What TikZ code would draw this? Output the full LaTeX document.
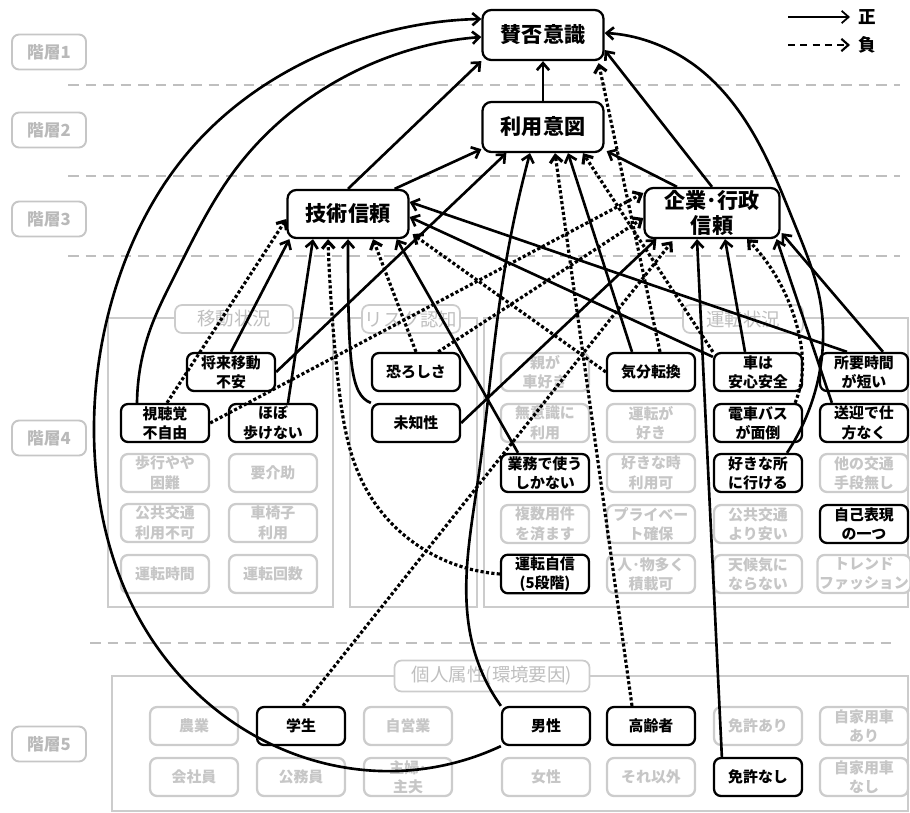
\documentclass[tikz,border=0pt]{standalone}
\usepackage{fontspec}
\setmainfont{Noto Sans CJK JP}
\usetikzlibrary{arrows.meta,calc,hobby}
\tikzset{
    every node/.style={inner sep=1pt, align=center},
    layerbox/.style={draw=gray!45, rounded corners=4pt, line width=1.1pt, text=gray!55,
        font=\fontsize{9.5}{11}\selectfont\bfseries, minimum width=1.48cm, minimum height=0.7cm},
    keybox/.style={draw, fill=white, rounded corners=5pt, line width=1.3pt,
        font=\fontsize{12}{15}\selectfont\bfseries, minimum width=2.42cm, minimum height=1cm},
    varbox/.style={draw, fill=white, rounded corners=4pt, line width=1.3pt,
        font=\fontsize{8.5}{11}\selectfont\bfseries, minimum width=1.76cm, minimum height=0.76cm},
    offbox/.style={varbox, draw=gray!40, text=gray!45},
    groupbox/.style={draw=gray!40, line width=1pt},
    grouptitle/.style={draw=gray!40, fill=white, rounded corners=4pt, line width=1pt, text=gray!50,
        font=\fontsize{10.5}{12}\selectfont, minimum height=0.56cm},
    divider/.style={gray!50, line width=1pt, dash pattern=on 6pt off 4pt},
    posline/.style={line width=1.5pt, -{Straight Barb[length=4pt,width=7pt]}},
    negline/.style={posline, line width=1.8pt, dash pattern=on 1.8pt off 1.3pt},
}
\begin{document}
\begin{tikzpicture}[x=0.02cm, y=-0.02cm]
\useasboundingbox (0,0) rectangle (910,812);

% layers
\node[layerbox] (L1) at (49,52) {階層1};
\node[layerbox] (L2) at (49,130) {階層2};
\node[layerbox] (L3) at (49,219) {階層3};
\node[layerbox] (L4) at (49,438) {階層4};
\node[layerbox] (L5) at (49,744) {階層5};
\draw[divider] (68,85) -- (900,85);
\draw[divider] (68,176) -- (900,176);
\draw[divider] (68,256) -- (900,256);
\draw[divider] (90,643) -- (895,643);

% legend
\node[font=\fontsize{10}{12}\selectfont\bfseries, anchor=west] (lgPos) at (856,17) {正};
\node[font=\fontsize{10}{12}\selectfont\bfseries, anchor=west] (lgNeg) at (856,45) {負};
\coordinate (lgA) at (788,17);
\coordinate (lgB) at (788,45);
\draw[posline, line width=1pt] (lgA) -- ($(lgPos.west)+(-6,0)$);
\draw[posline, line width=1.2pt, dash pattern=on 4pt off 3pt] (lgB) -- ($(lgNeg.west)+(-6,0)$);

% groups
\draw[groupbox] (108,318) rectangle (333,607);
\draw[groupbox] (350,318) rectangle (477,607);
\draw[groupbox] (484,318) rectangle (908,607);
\draw[groupbox] (112,676) rectangle (908,811);
\node[grouptitle, minimum width=2.36cm] (gMove) at (234,319) {移動状況};
\node[grouptitle, minimum width=1.96cm] (gRisk) at (411,319) {リスク認知};
\node[grouptitle, minimum width=2.4cm] (gDrive) at (743,319) {運転状況};
\node[grouptitle, minimum width=3.9cm, minimum height=0.62cm] (gPers) at (492,676) {個人属性(環境要因)};

% layer 1-3
\node[keybox] (agree) at (543,35) {賛否意識};
\node[keybox] (intent) at (543,127) {利用意図};
\node[keybox, minimum height=0.96cm] (tech) at (348,214) {技術信頼};
\node[keybox, minimum width=2.7cm, font=\fontsize{12}{14}\selectfont\bfseries] (corp) at (712,213) {企業･行政\\信頼};

% layer 4: 移動状況
\node[varbox] (fut) at (231,372) {将来移動\\不安};
\node[varbox] (vis) at (165,423) {視聴覚\\不自由};
\node[varbox] (walk) at (273,423) {ほぼ\\歩けない};
\node[offbox] (hard) at (165,473) {歩行やや\\困難};
\node[offbox] (care) at (273,473) {要介助};
\node[offbox] (noPT) at (165,523) {公共交通\\利用不可};
\node[offbox] (chair) at (273,523) {車椅子\\利用};
\node[offbox] (dtime) at (165,574) {運転時間};
\node[offbox] (dcount) at (273,574) {運転回数};
% リスク認知
\node[varbox] (fear) at (416,372) {恐ろしさ};
\node[varbox] (unk) at (416,423) {未知性};
% 運転状況
\node[offbox] (parent) at (545,372) {親が\\車好き};
\node[offbox] (habit) at (545,423) {無意識に\\利用};
\node[varbox] (work) at (545,473) {業務で使う\\しかない};
\node[offbox] (multi) at (545,524) {複数用件\\を済ます};
\node[varbox] (conf) at (545,574) {運転自信\\(5段階)};
\node[varbox] (mood) at (651,372) {気分転換};
\node[offbox] (likeDrive) at (651,423) {運転が\\好き};
\node[offbox] (anytime) at (651,473) {好きな時\\利用可};
\node[offbox] (privacy) at (651,524) {プライベー\\ト確保};
\node[offbox] (cargo) at (651,574) {人･物多く\\積載可};
\node[varbox] (safe) at (758,372) {車は\\安心安全};
\node[varbox] (train) at (758,423) {電車バス\\が面倒};
\node[varbox] (place) at (758,473) {好きな所\\に行ける};
\node[offbox] (cheap) at (758,524) {公共交通\\より安い};
\node[offbox] (weather) at (758,574) {天候気に\\ならない};
\node[varbox] (time) at (864,372) {所要時間\\が短い};
\node[varbox] (pickup) at (864,423) {送迎で仕\\方なく};
\node[offbox] (noAlt) at (864,473) {他の交通\\手段無し};
\node[varbox] (self) at (864,524) {自己表現\\の一つ};
\node[offbox] (trend) at (864,574) {トレンド\\ファッション};

% layer 5
\node[offbox] (farm) at (194,726) {農業};
\node[varbox] (student) at (301,726) {学生};
\node[offbox] (selfEmp) at (408,726) {自営業};
\node[varbox] (male) at (546,726) {男性};
\node[varbox] (elder) at (651,726) {高齢者};
\node[offbox] (licYes) at (758,726) {免許あり};
\node[offbox] (carYes) at (864,726) {自家用車\\あり};
\node[offbox] (office) at (194,777) {会社員};
\node[offbox] (civil) at (301,777) {公務員};
\node[offbox] (house) at (408,777) {主婦･\\主夫};
\node[offbox] (female) at (546,777) {女性};
\node[offbox] (other) at (651,777) {それ以外};
\node[varbox] (licNo) at (758,777) {免許なし};
\node[offbox] (carNo) at (864,777) {自家用車\\なし};

% paths into 賛否意識
\draw[posline] (intent) -- (agree);
\draw[posline] (tech.north) -- (agree.south west);
\draw[posline] (corp.north) -- ($(agree.east)+(0,15)$);
\draw[negline] ($(mood.north)+(9,0)$) -- ($(agree.south east)+(-6,2)$);
\draw[posline] (male.south west) to[curve through={(380,771) .. (250,733) .. (140,620) .. (95,460) .. (115,290) .. (190,150) .. (320,55)}] ($(agree.west)+(0,-16)$);
\draw[posline] ($(vis.north)+(-28,0)$) to[curve through={(150,330) .. (175,275) .. (235,170) .. (330,85)}] ($(agree.west)+(0,2)$);
\draw[posline] ($(place.north)+(29,0)$) to[curve through={(818,380) .. (820,300) .. (795,225) .. (757,140) .. (690,62)}] ($(agree.east)+(0,-2)$);

% paths into 利用意図
\draw[posline] ($(tech.north east)+(-15,0)$) -- ($(intent.south west)+(0,-4)$);
\draw[posline] (fut.east) -- ($(intent.south west)+(25,0)$);
\draw[posline] (male.north west) to[curve through={(474,650) .. (478,480) .. (503,280)}] ($(intent.south)+(-13,0)$);
\draw[negline] ($(elder.north)+(-19,0)$) -- ($(intent.south)+(12,0)$);
\draw[posline] ($(mood.north)+(-19,0)$) -- ($(intent.south)+(25,0)$);
\draw[negline] (safe.north west) -- ($(intent.south)+(40,0)$);
\draw[posline] ($(corp.north)+(-35,0)$) -- ($(intent.south east)+(2,-2)$);

% paths into 技術信頼
\draw[negline] ($(vis.north)+(2,0)$) -- ($(tech.west)+(0,5)$);
\draw[posline] (fut.north) -- ($(tech.south west)+(3,0)$);
\draw[posline] ($(walk.north)+(15,0)$) -- ($(tech.south)+(-35,0)$);
\draw[negline] (conf.west) to[curve through={(430,553) .. (365,487) .. (338,380) .. (331,300)}] ($(tech.south)+(-20,0)$);
\draw[posline] (unk.north west) .. controls (350,395) and (348,360) .. (tech.south);
\draw[negline] (fear.north) -- ($(tech.south)+(25,0)$);
\draw[posline] ($(work.north)+(-27,0)$) -- ($(tech.south east)+(-13,0)$);
\draw[posline] ($(time.north)+(-17,0)$) -- ($(tech.east)+(0,-12)$);
\draw[posline] ($(safe.north west)+(0,5)$) -- ($(tech.east)+(0,3)$);
\draw[negline] (mood.west) -- ($(tech.south east)+(3,-5)$);

% paths into 企業・行政信頼
\draw[negline] (vis.east) -- ($(corp.west)+(0,-20)$);
\draw[negline] ($(fear.north east)+(-23,0)$) -- ($(corp.west)+(0,5)$);
\draw[posline] (unk.east) -- ($(corp.south west)+(13,0)$);
\draw[negline] ($(student.north)+(2,0)$) -- ($(corp.south west)+(29,2)$);
\draw[posline] ($(licNo.north west)+(9,0)$) -- ($(corp.south)+(-15,0)$);
\draw[posline] ($(safe.north)+(-13,0)$) -- ($(corp.south)+(13,0)$);
\draw[negline] ($(train.north east)+(-8,0)$) to[curve through={(802,375) .. (798,330)}] ($(corp.south)+(35,0)$);
\draw[posline] ($(pickup.north west)+(13,0)$) -- ($(corp.south east)+(-4,0)$);
\draw[posline] ($(time.north)+(19,0)$) -- ($(corp.south east)+(1,-6)$);
\end{tikzpicture}
\end{document}
